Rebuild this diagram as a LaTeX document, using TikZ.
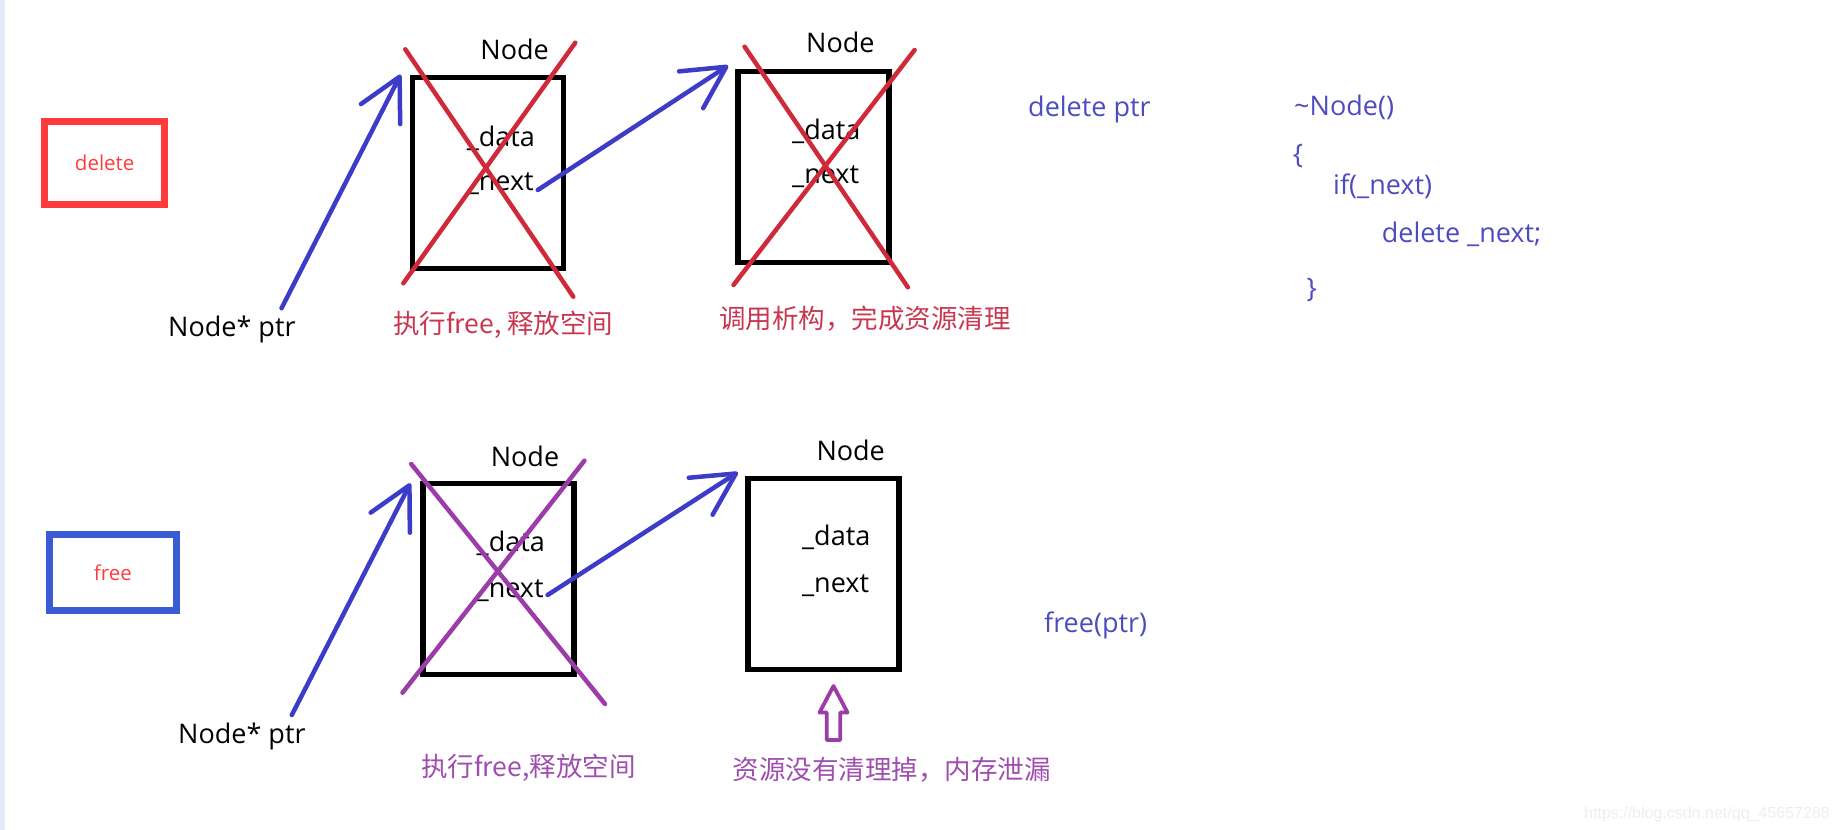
\documentclass[tikz,border=0pt]{standalone}
\usepackage{fontspec}
\setmainfont{Open Sans}
\newfontfamily\cjk{Noto Sans CJK SC}
\newfontfamily\wmfont{Liberation Sans}
\usetikzlibrary{arrows.meta}

\definecolor{penblue}{HTML}{3C3CC8}
\definecolor{crossred}{HTML}{D02A3A}
\definecolor{notered}{HTML}{C8374F}
\definecolor{crosspurple}{HTML}{9C3CA8}
\definecolor{notepurple}{HTML}{A04DB0}
\definecolor{codeblue}{HTML}{4C4CC0}
\definecolor{tagred}{HTML}{FF3B3B}
\definecolor{tagblue}{HTML}{3A5BD3}
\definecolor{sidebar}{HTML}{E6E9F8}

\tikzset{
  nodebox/.style={draw=black, line width=5.5pt, minimum width=151pt, minimum height=191pt, inner sep=0pt},
  tagbox/.style={draw, line width=7pt, text=tagred, inner sep=0pt, font=\fontsize{20.5}{24}\selectfont},
  field/.style={anchor=base west, inner sep=0pt, font=\fontsize{27}{32}\selectfont},
  title/.style={anchor=base, inner sep=0pt, font=\fontsize{27}{32}\selectfont},
  code/.style={anchor=base west, inner sep=0pt, text=codeblue, font=\fontsize{27}{32}\selectfont},
  note/.style={anchor=west, inner sep=0pt, font=\cjk\fontsize{26.5}{30}\selectfont},
  ptrarrow/.style={draw=penblue, line width=4.5pt, line cap=round, -{Straight Barb[length=42pt,width=44pt,round]}},
  cross/.style={line width=4.5pt, line cap=round}
}

\begin{document}
\begin{tikzpicture}[x=1pt,y=-1pt]
\useasboundingbox (0,0) rectangle (1837,830);
\fill[sidebar] (0,0) rectangle (5,830);

%% delete
\node[tagbox, draw=tagred, minimum width=120pt, minimum height=83pt] (deltag) at (104.7,162.9) {delete};

\node[nodebox] (boxA) at (487.9,172.9) {};
\node[title] (titleA) at (514.6,59.5) {Node};
\node[field] (dataA) at (466.6,146.7) {\_data};
\node[field] (nextA) at (466.6,190) {\_next};
\node[field] (ptrA) at (168,336.7) {Node* ptr};
\coordinate (fromA) at (281.5,308.3);
\draw[ptrarrow] (fromA) -- ([shift={(-9pt,0pt)}]boxA.north west);
\draw[cross, crossred] (405.3,49.3) -- (573.3,296.7);
\draw[cross, crossred] (575.3,42.7) -- (403.3,283.3);
\node[note, text=notered] (noteA) at (393,325) {执行free, 释放空间};

\node[nodebox] (boxB) at (813.4,166.8) {};
\node[title] (titleB) at (840.4,52.7) {Node};
\node[field] (dataB) at (792,139) {\_data};
\node[field] (nextB) at (792,183) {\_next};
\coordinate (fromB) at (537.8,190);
\draw[ptrarrow] (fromB) -- ([shift={(-7pt,3pt)}]boxB.north west);
\draw[cross, crossred] (744.6,46.7) -- (907.9,287.3);
\draw[cross, crossred] (914.6,50) -- (733.5,285);
\node[note, text=notered] (noteB) at (719,318.5) {调用析构，完成资源清理};

\node[code] (delptr) at (1028,116.7) {delete ptr};
\node[code] (dtor) at (1294,115.5) {\textasciitilde Node()};
\node[code] (open) at (1292.6,163.5) {\{};
\node[code] (cond) at (1333,194) {if(\_next)};
\node[code] (body) at (1381.6,242) {delete \_next;};
\node[code] (close) at (1306.4,297) {\}};

%% free
\node[tagbox, draw=tagblue, minimum width=127.6pt, minimum height=76.3pt] (freetag) at (112.8,572.4) {free};

\node[nodebox] (boxC) at (498.3,578.9) {};
\node[title] (titleC) at (525,466) {Node};
\node[field] (dataC) at (476.5,551.7) {\_data};
\node[field] (nextC) at (476.5,597.3) {\_next};
\node[field] (ptrC) at (178,743.3) {Node* ptr};
\coordinate (fromC) at (291.8,715);
\draw[ptrarrow] (fromC) -- ([shift={(-9.6pt,-2.6pt)}]boxC.north west);
\draw[cross, crosspurple] (411.2,464) -- (605,704);
\draw[cross, crosspurple] (584.4,460.7) -- (402.5,692.7);
\node[note, text=notepurple] (noteC) at (421,768) {执行free,释放空间};

\node[nodebox] (boxD) at (823.4,573.9) {};
\node[title] (titleD) at (850.7,460) {Node};
\node[field] (dataD) at (801.9,545.7) {\_data};
\node[field] (nextD) at (801.9,592.3) {\_next};
\coordinate (fromD) at (547.6,595);
\draw[ptrarrow] (fromD) -- ([shift={(-7.3pt,3.4pt)}]boxD.north west);
\draw[crosspurple, line width=3.8pt, line join=round] (833.5,686) -- (847.5,712.5) -- (840.2,712.5) -- (840.2,740) -- (826.8,740) -- (826.8,712.5) -- (819.5,712.5) -- cycle;
\node[note, text=notepurple] (noteD) at (732.7,770) {资源没有清理掉，内存泄漏};

\node[code] (freeptr) at (1043.9,632) {free(ptr)};

\node[anchor=base west, inner sep=0pt, text=black!7, font=\wmfont\fontsize{16}{19}\selectfont] (mark) at (1584,818) {https://blog.csdn.net/qq\_45657288};

\end{tikzpicture}
\end{document}
